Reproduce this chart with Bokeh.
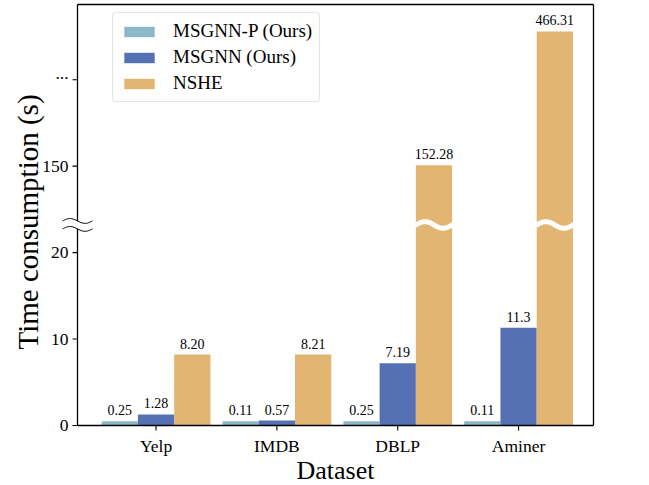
import numpy as np
from bokeh.plotting import figure
from bokeh.models import ColumnDataSource, Range1d, Legend, LegendItem
from bokeh.embed import file_html
from bokeh.resources import INLINE
from bokeh.core.properties import value

# ---------------- data ----------------
datasets = ["Yelp", "IMDB", "DBLP", "Aminer"]
series_names = ["MSGNN-P (Ours)", "MSGNN (Ours)", "NSHE"]
msgnn_p = [0.25, 0.11, 0.25, 0.11]
msgnn = [1.28, 0.57, 7.19, 11.3]
nshe = [8.20, 8.21, 152.28, 466.31]
msgnn_p_labels = ["0.25", "0.11", "0.25", "0.11"]
msgnn_labels = ["1.28", "0.57", "7.19", "11.3"]
nshe_labels = ["8.20", "8.21", "152.28", "466.31"]
y_tick_values = [0, 10, 20, 150, 353]
y_tick_labels = ["0", "10", "20", "150", "..."]
x_title = "Dataset"
y_title = "Time consumption (s)"

# ---------------- style ----------------
colors = ["#8AB8C7", "#5571B4", "#E3B572"]
FONT = "Liberation Serif"
BAR_W = 0.3
OFFSETS = [-0.3, 0.0, 0.3]

# broken axis: lower part 10 s per display unit, upper part starts at 150
LOWER_UNIT = 10.0
BREAK_VALUE = 25.0
UPPER_START = 150.0
UPPER_START_DISPLAY = 3.0
UPPER_UNIT = 203.0
MIN_VISIBLE = 0.5
BREAK_DISPLAY = 2.32


def to_display(v):
    v = max(v, MIN_VISIBLE)
    if v <= BREAK_VALUE:
        return v / LOWER_UNIT
    return UPPER_START_DISPLAY + (v - UPPER_START) / UPPER_UNIT


# canvas / plot box geometry
W, H = 640, 484
PX_X = 120.84          # pixels per x unit
PX_Y = 86.45           # pixels per display unit
BOX_LEFT, BOX_RIGHT = -0.65, 3.62
BOX_BOTTOM, BOX_TOP = 0.0, 4.87
LEFT_MARGIN_PX = 77    # canvas px left of the left spine
BOTTOM_MARGIN_PX = 59  # canvas px below the bottom spine
X_START = BOX_LEFT - LEFT_MARGIN_PX / PX_X
X_END = X_START + W / PX_X
Y_START = BOX_BOTTOM - BOTTOM_MARGIN_PX / PX_Y
Y_END = Y_START + H / PX_Y

p = figure(width=W, height=H, output_backend="svg", toolbar_location=None,
           x_range=Range1d(X_START, X_END), y_range=Range1d(Y_START, Y_END),
           x_axis_location=None, y_axis_location=None,
           min_border_top=0, min_border_left=0, min_border_right=0, min_border_bottom=0)
p.xgrid.visible = False
p.ygrid.visible = False
p.outline_line_color = None
p.background_fill_color = "white"
p.border_fill_color = "white"

series_values = [msgnn_p, msgnn, nshe]
series_labels = [msgnn_p_labels, msgnn_labels, nshe_labels]
renderers = []
text_sources = []
xs_idx = np.arange(len(datasets))
for k, (vals, labs) in enumerate(zip(series_values, series_labels)):
    disp = [to_display(v) for v in vals]
    src = ColumnDataSource(dict(x=xs_idx + OFFSETS[k], top=disp, lab=labs))
    r = p.vbar(x="x", top="top", bottom=0, width=BAR_W, source=src,
               fill_color=colors[k], line_color=None)
    renderers.append(r)
    text_sources.append(src)

# white wavy break over bars exceeding the break
t = np.linspace(-0.03, 1.03, 40)
AMP = 0.038
wave_xs, wave_ys = [], []
for k, vals in enumerate(series_values):
    for i, v in enumerate(vals):
        if v > BREAK_VALUE:
            left = xs_idx[i] + OFFSETS[k] - BAR_W / 2
            wave_xs.append(list(left + t * BAR_W))
            wave_ys.append(list(BREAK_DISPLAY + AMP * np.sin(2 * np.pi * t)))
p.multi_line(xs=wave_xs, ys=wave_ys, line_color="white", line_width=5)

# value labels above the bars
for src in text_sources:
    p.text(x="x", y="top", text="lab", source=src, text_font=value(FONT),
           text_font_size="14px", text_align="center", text_baseline="middle",
           y_offset=-11, text_color="black")

# spines (with the gap of the axis break on the left one)
GAP = 0.046
SPINE_W = 1.3
p.multi_line(xs=[[BOX_LEFT, BOX_LEFT], [BOX_LEFT, BOX_LEFT], [BOX_LEFT, BOX_RIGHT],
                 [BOX_LEFT, BOX_RIGHT], [BOX_RIGHT, BOX_RIGHT]],
             ys=[[BOX_BOTTOM, BREAK_DISPLAY - GAP], [BREAK_DISPLAY + GAP, BOX_TOP],
                 [BOX_BOTTOM, BOX_BOTTOM], [BOX_TOP, BOX_TOP], [BOX_BOTTOM, BOX_TOP]],
             line_color="black", line_width=SPINE_W)

# tick marks
y_disp_ticks = [to_display(v) if v > 0 else 0.0 for v in y_tick_values]
TICK_X = 5 / PX_X
TICK_Y = 5 / PX_Y
p.segment(x0=[BOX_LEFT - TICK_X] * len(y_disp_ticks), x1=[BOX_LEFT] * len(y_disp_ticks),
          y0=y_disp_ticks, y1=y_disp_ticks, line_color="black", line_width=1.1)
p.segment(x0=list(xs_idx), x1=list(xs_idx), y0=[BOX_BOTTOM] * len(xs_idx),
          y1=[BOX_BOTTOM - TICK_Y] * len(xs_idx), line_color="black", line_width=1.1)

# tick labels (the dots of "..." sit on the baseline, so lift that one)
ytick_src = ColumnDataSource(dict(
    x=[BOX_LEFT - 9 / PX_X] * len(y_disp_ticks), y=y_disp_ticks, lab=y_tick_labels,
    dy=[-6 if s == "..." else 0 for s in y_tick_labels]))
p.text(x="x", y="y", text="lab", y_offset="dy", source=ytick_src,
       text_font=value(FONT), text_font_size="17.5px", text_align="right",
       text_baseline="middle", text_color="black")
p.text(x=list(xs_idx), y=[BOX_BOTTOM - 20 / PX_Y] * len(xs_idx), text=datasets,
       text_font=value(FONT), text_font_size="17.5px", text_align="center",
       text_baseline="middle", text_color="black")

# axis break mark across the y axis
mt = np.linspace(0, 1, 30)
MARK_HALF = 15 / PX_X
bx = list(BOX_LEFT - MARK_HALF + mt * 2 * MARK_HALF)
p.multi_line(xs=[bx, bx],
             ys=[list(BREAK_DISPLAY + GAP + 0.028 * np.sin(2 * np.pi * mt)),
                 list(BREAK_DISPLAY - GAP + 0.028 * np.sin(2 * np.pi * mt))],
             line_color="black", line_width=1)

# axis titles
p.text(x=[(BOX_LEFT + BOX_RIGHT) / 2], y=[BOX_BOTTOM - 44.5 / PX_Y], text=[x_title],
       text_font=value(FONT), text_font_size="26px", text_align="center",
       text_baseline="middle", text_color="black")
p.text(x=[BOX_LEFT - 50 / PX_X], y=[BOX_BOTTOM + 203.5 / PX_Y], text=[y_title],
       text_font=value(FONT), text_font_size="29px", text_align="center",
       text_baseline="middle", angle=np.pi / 2, text_color="black")

legend = Legend(items=[LegendItem(label=n, renderers=[r]) for n, r in zip(series_names, renderers)],
                location=(112, 382))
legend.label_text_font = FONT
legend.label_text_font_size = "19px"
legend.label_text_color = "black"
legend.glyph_width = 38
legend.glyph_height = 13
legend.label_standoff = 15
legend.label_height = 22
legend.spacing = 4
legend.padding = 7
legend.border_line_color = "#cccccc"
legend.border_line_width = 1.2
legend.background_fill_alpha = 0.85
if "border_radius" in Legend.properties():
    legend.border_radius = 4
p.add_layout(legend, "center")

open("out.html", "w").write(file_html(p, INLINE))
